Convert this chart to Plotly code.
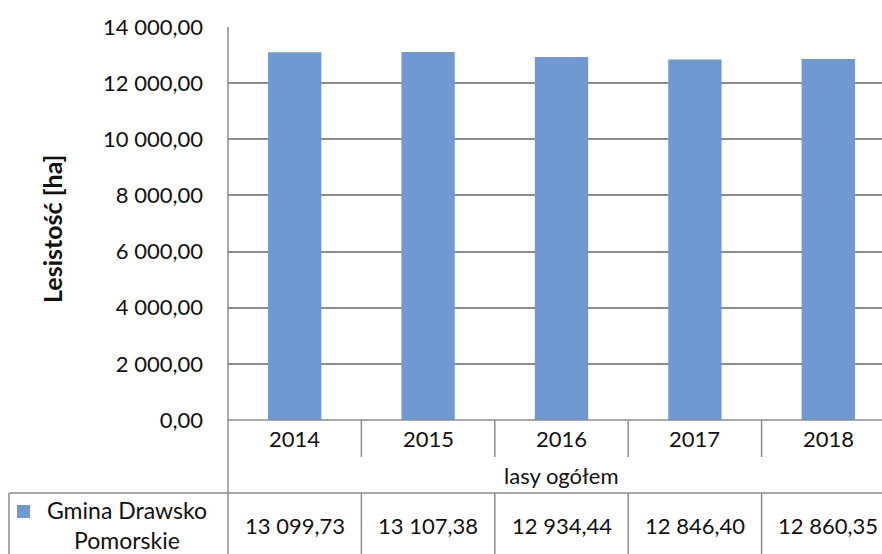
import plotly.graph_objects as go

years = ["2014", "2015", "2016", "2017", "2018"]
values = [13099.73, 13107.38, 12934.44, 12846.40, 12860.35]
value_labels = ["13 099,73", "13 107,38", "12 934,44", "12 846,40", "12 860,35"]
y_ticks = [0, 2000, 4000, 6000, 8000, 10000, 12000, 14000]
y_tick_labels = ["0,00", "2 000,00", "4 000,00", "6 000,00", "8 000,00",
                 "10 000,00", "12 000,00", "14 000,00"]
group_label = "lasy ogółem"
series_name = "Gmina Drawsko<br>Pomorskie"
y_title = "Lesistość [ha]"

W, H = 882, 554
L, T, B = 228, 27, 134
BAR_COLOR = "#7099d2"
LINE = "#8c8c8c"
FONT = "Lato"
TXT = "#111111"
FS = 22
WEIGHT = 400

plot_w = W - L
plot_h = H - T - B
cell = 133.4


def px_x(px):
    return (px - L) / plot_w


def px_y(py):
    return (H - B - py) / plot_h


def label(x, y, text, xref="paper", size=FS, weight=WEIGHT, angle=0):
    return dict(x=x, y=y, xref=xref, yref="paper", text=text, showarrow=False,
                xanchor="center", yanchor="middle", align="center", textangle=angle,
                font=dict(size=size, color=TXT, family=FONT, weight=weight))


fig = go.Figure(go.Bar(x=list(range(len(years))), y=values, width=0.4,
                       marker=dict(color=BAR_COLOR, line=dict(width=0)),
                       name=series_name, showlegend=False))

shapes = []
annotations = []
line = dict(color=LINE, width=1.5)

# table borders
shapes.append(dict(type="line", xref="paper", yref="paper", x0=0, x1=1.02,
                   y0=0, y1=0, line=line))
shapes.append(dict(type="line", xref="paper", yref="paper", x0=px_x(9), x1=1.02,
                   y0=px_y(493), y1=px_y(493), line=line))
shapes.append(dict(type="line", xref="paper", yref="paper", x0=0, x1=0,
                   y0=1, y1=px_y(560), line=line))
shapes.append(dict(type="line", xref="paper", yref="paper", x0=px_x(9), x1=px_x(9),
                   y0=px_y(493), y1=px_y(560), line=line))

for i, yr in enumerate(years):
    if i < len(years) - 1:
        shapes.append(dict(type="line", xref="x", yref="paper", x0=i + 0.5, x1=i + 0.5,
                           y0=0, y1=px_y(457), line=line))
        shapes.append(dict(type="line", xref="x", yref="paper", x0=i + 0.5, x1=i + 0.5,
                           y0=px_y(493), y1=px_y(560), line=line))
    annotations.append(label(i, px_y(438), yr, xref="x"))
    annotations.append(label(i, px_y(525), value_labels[i], xref="x"))

annotations.append(label(2, px_y(475), group_label, xref="x"))
annotations.append(label(px_x(127), px_y(525), series_name, size=23))
annotations.append(label(px_x(52), px_y(229), y_title, size=25, weight="bold", angle=-90))
shapes.append(dict(type="rect", xref="paper", yref="paper", x0=px_x(17), x1=px_x(30),
                   y0=px_y(518), y1=px_y(505), fillcolor=BAR_COLOR, line=dict(width=0)))

fig.update_layout(
    width=W, height=H,
    margin=dict(l=L, r=0, t=T, b=B, pad=0),
    paper_bgcolor="white", plot_bgcolor="white",
    font=dict(family=FONT, size=FS, color=TXT),
    shapes=shapes, annotations=annotations,
    xaxis=dict(range=[-0.5, -0.5 + plot_w / cell], showticklabels=False, showgrid=False,
               zeroline=False, showline=False, ticks=""),
    yaxis=dict(range=[0, 14000], tickvals=y_ticks, ticktext=y_tick_labels,
               showgrid=True, gridcolor=LINE, gridwidth=1.5, zeroline=False,
               showline=False, ticks="", ticklabelstandoff=24, automargin=False,
               tickfont=dict(size=FS, family=FONT, color=TXT, weight=WEIGHT)),
)

fig.write_html("out.html", config={"displayModeBar": False},
               post_script="document.body.style.margin='0';")
